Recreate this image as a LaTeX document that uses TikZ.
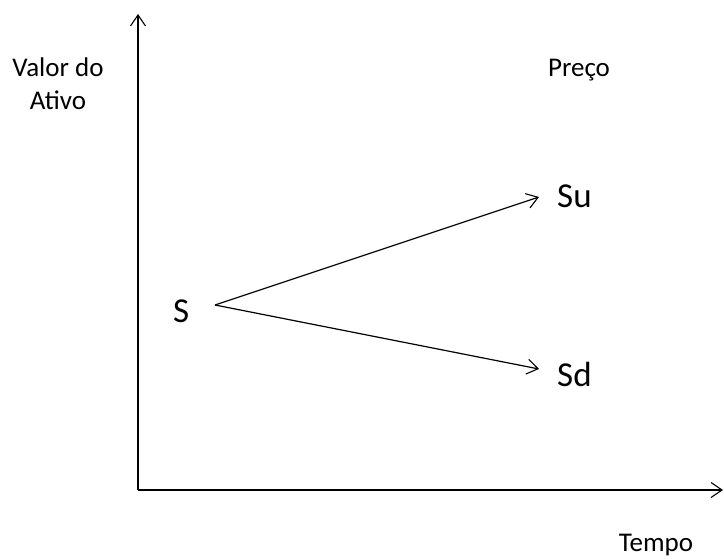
\documentclass[tikz,border=0pt]{standalone}
\usepackage{fontspec}
\setmainfont{Carlito}
\usetikzlibrary{arrows.meta}
\begin{document}
\begin{tikzpicture}[x=1pt,y=-1pt,
  axisline/.style={line width=1.5pt,-{Straight Barb[length=11pt,width=15pt,line width=1.1pt]}},
  branch/.style={line width=1.2pt,-{Straight Barb[length=11pt,width=15pt,line width=1.1pt]}},
  small/.style={inner sep=0pt,font=\fontsize{27}{32}\selectfont},
  big/.style={inner sep=0pt,font=\fontsize{35}{42}\selectfont}]
\useasboundingbox[fill=white] (0,0) rectangle (724,559);
% axes
\coordinate (orig) at (138,490);
\coordinate (ytip) at (138,14);
\coordinate (xtip) at (723,490);
\draw[axisline] (orig) -- (ytip);
\draw[axisline] (orig) -- (xtip);
% labels
\node[small,anchor=base] (v1) at (58,77) {Valor do};
\node[small,anchor=base] (v2) at (58,110) {Ativo};
\node[small,anchor=base] (preco) at (579,77) {Preço};
\node[small,anchor=base] (tempo) at (656,551) {Tempo};
% tree
\node[big,anchor=base west] (S) at (173,323) {S};
\node[big,anchor=base west] (Su) at (557,208) {Su};
\node[big,anchor=base west] (Sd) at (557,386) {Sd};
\coordinate (o) at (215,305);
\coordinate (u) at (539,197);
\coordinate (d) at (539,369);
\draw[branch] (o) -- (u);
\draw[branch] (o) -- (d);
\end{tikzpicture}
\end{document}
